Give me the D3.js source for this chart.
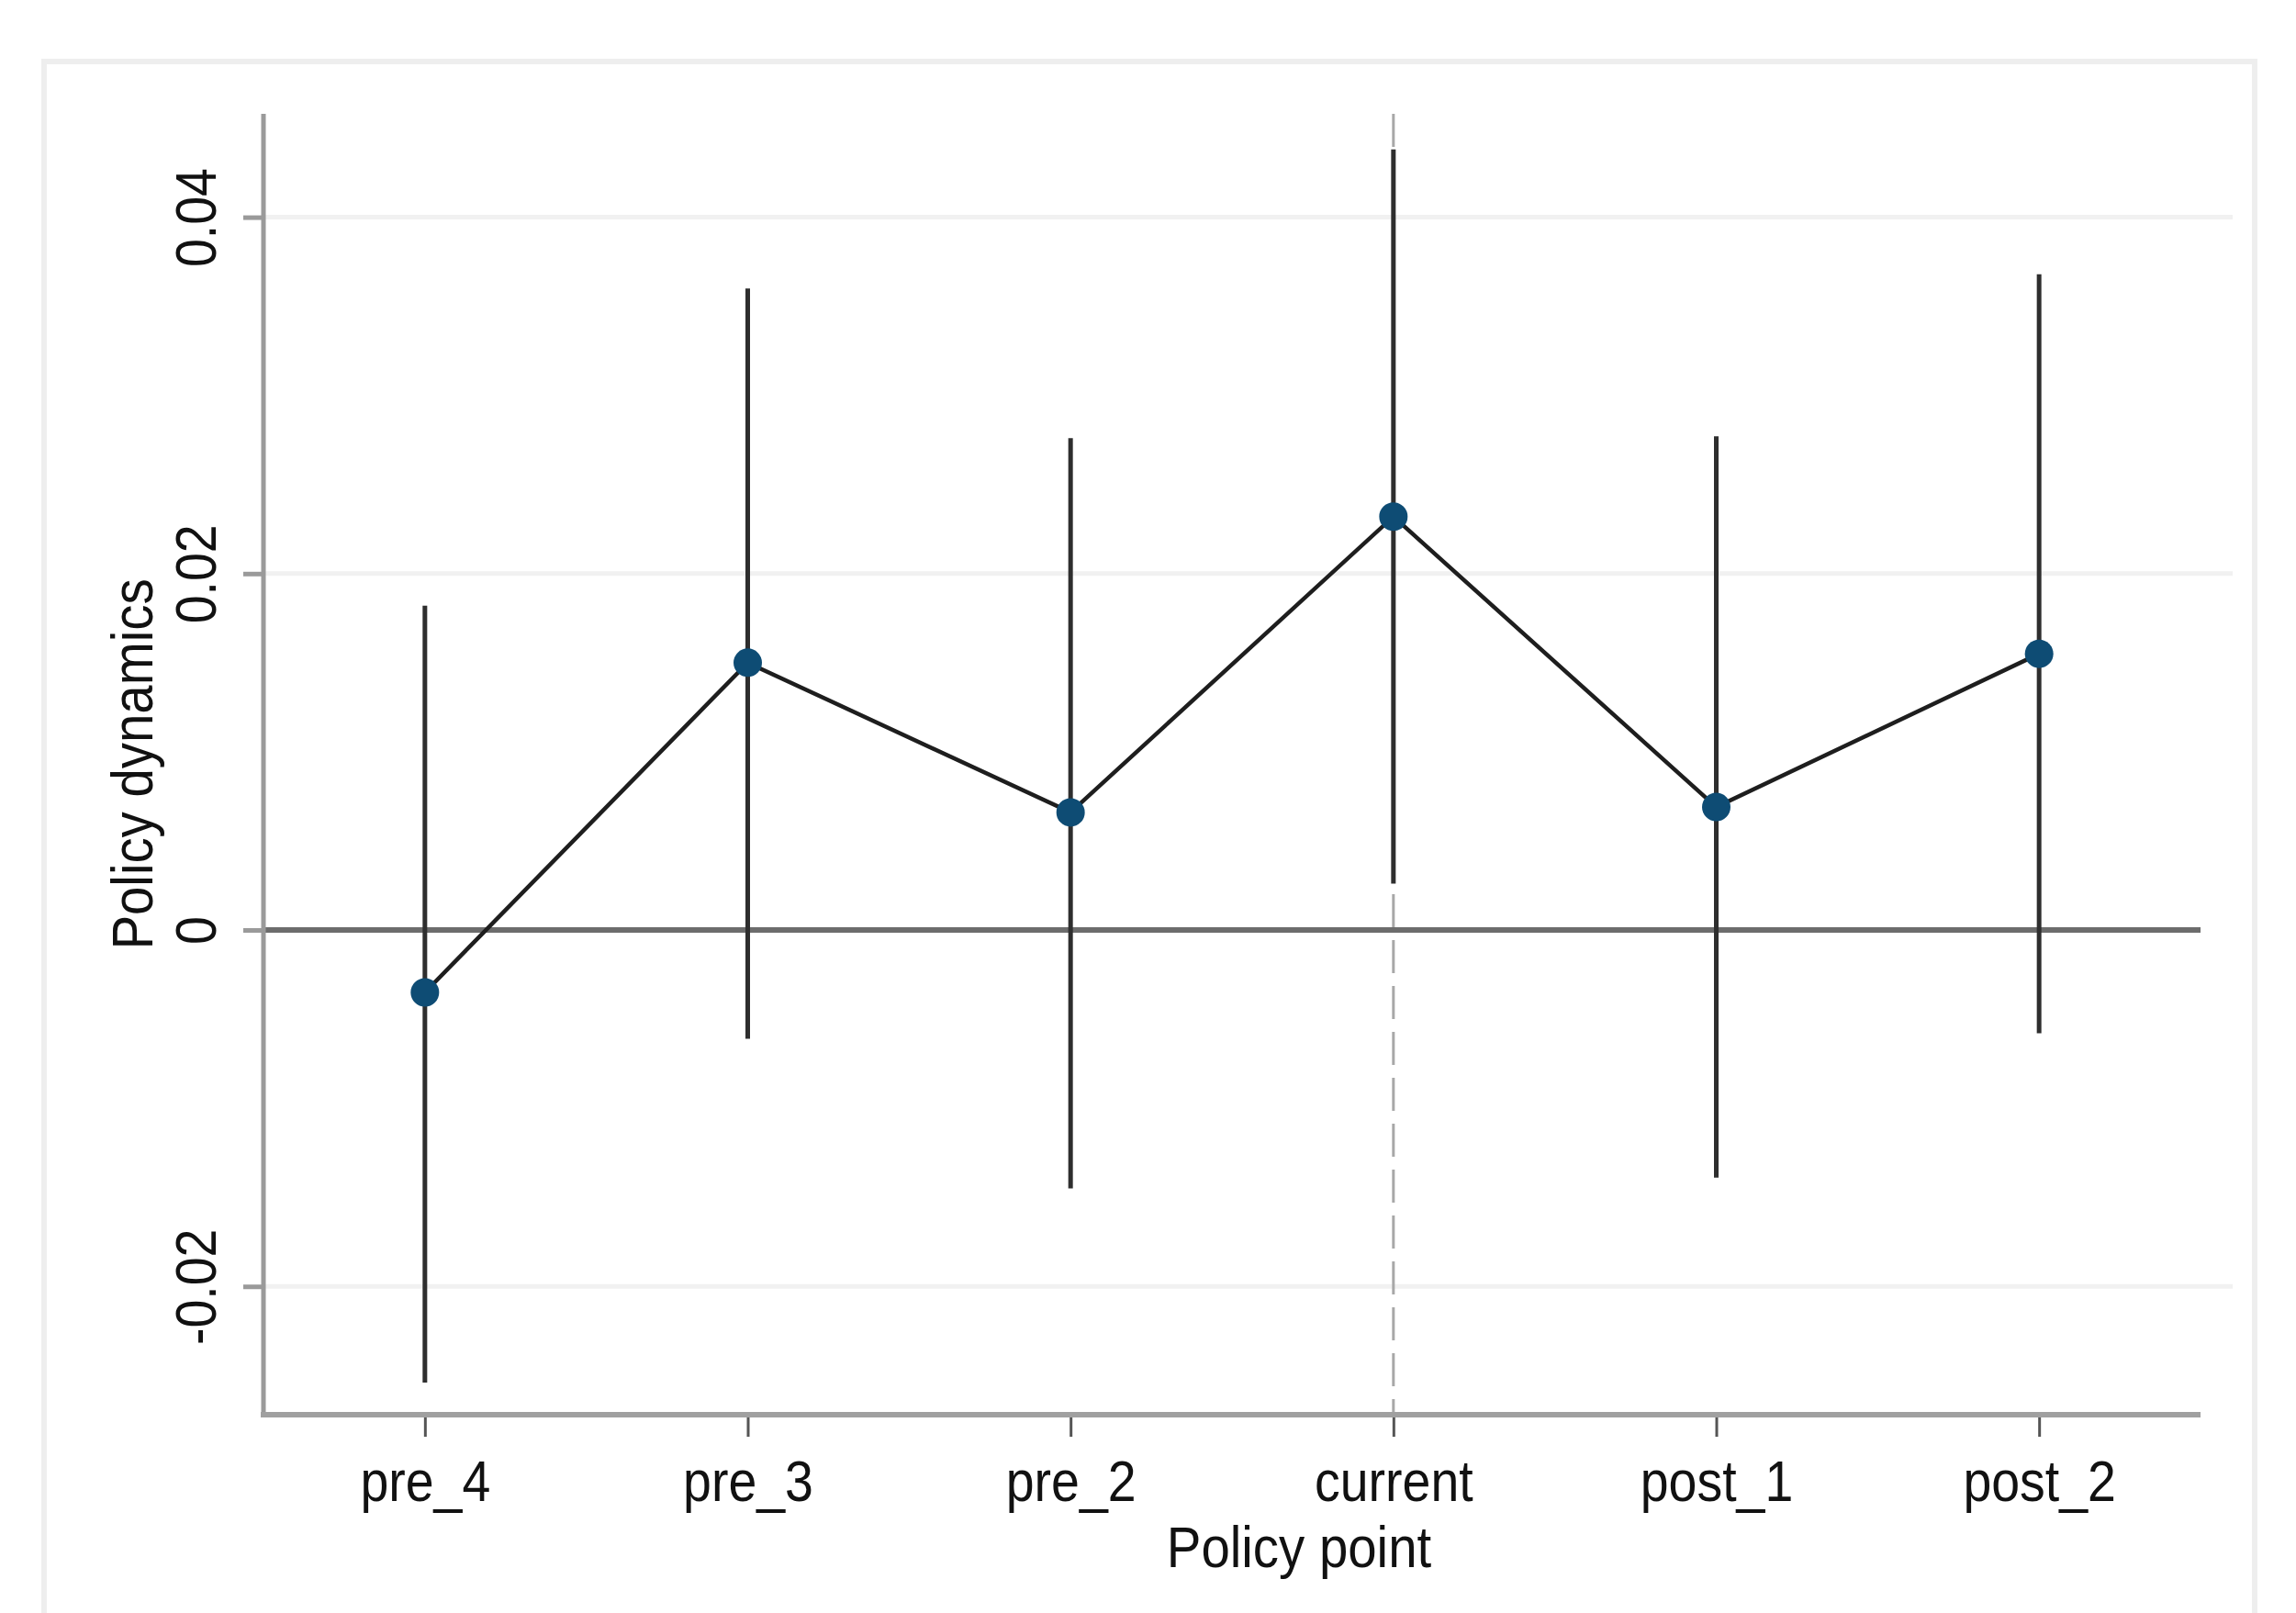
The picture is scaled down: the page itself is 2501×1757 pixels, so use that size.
<!DOCTYPE html>
<html>
<head>
<meta charset="utf-8">
<script src="https://cdn.jsdelivr.net/npm/d3@7"></script>
<style>
  html, body { margin: 0; padding: 0; background: #ffffff; }
  svg { display: block; }
  text { font-family: "Liberation Sans", Arial, Helvetica, sans-serif; fill: #111; }
</style>
</head>
<body>
<svg id="chart" width="2501" height="1757"></svg>
<script>
// ---- data ----
const categories = ["pre_4", "pre_3", "pre_2", "current", "post_1", "post_2"];
const estimates  = [-0.0035, 0.0150, 0.0066, 0.0232, 0.0069, 0.0155];
const ciLower    = [-0.0254, -0.0061, -0.0145, 0.0026, -0.0139, -0.0058];
const ciUpper    = [0.0182, 0.0360, 0.0276, 0.0438, 0.0277, 0.0368];
const yTickValues = [-0.02, 0, 0.02, 0.04];
const yTickLabels = ["-0.02", "0", "0.02", "0.04"];
const refCategory = "current";
const xTitle = "Policy point";
const yTitle = "Policy dynamics";

// ---- layout ----
const svg = d3.select("#chart");
const W = 2501, H = 1757;
const plot = { left: 287, right: 2397, top: 124, bottom: 1541 };

svg.append("rect").attr("x", 0).attr("y", 0).attr("width", W).attr("height", H).attr("fill", "#ffffff");
// outer graph-region frame
svg.append("rect")
  .attr("x", 48).attr("y", 67).attr("width", 2408).attr("height", 1720)
  .attr("fill", "none").attr("stroke", "#eeeeee").attr("stroke-width", 6);

const x = d3.scalePoint().domain(categories).range([plot.left, plot.right]).padding(0.5);
const y = d3.scaleLinear().domain([-0.0272, 0.0458]).range([plot.bottom, plot.top]);

// gridlines
svg.append("g").selectAll("line")
  .data(yTickValues.filter(v => v !== 0))
  .join("line")
  .attr("x1", plot.left).attr("x2", 2432)
  .attr("y1", d => y(d)).attr("y2", d => y(d))
  .attr("stroke", "#f1f1f1").attr("stroke-width", 5);

// zero line
svg.append("line")
  .attr("x1", plot.left).attr("x2", plot.right)
  .attr("y1", y(0)).attr("y2", y(0))
  .attr("stroke", "#6c6c6c").attr("stroke-width", 6);

// reference dashed line
svg.append("line")
  .attr("x1", x(refCategory)).attr("x2", x(refCategory))
  .attr("y1", plot.top).attr("y2", plot.bottom)
  .attr("stroke", "#a8a8a8").attr("stroke-width", 3)
  .attr("stroke-dasharray", "36,14");

// y axis
const yAxis = d3.axisLeft(y).tickValues(yTickValues)
  .tickFormat((d, i) => yTickLabels[i]).tickSize(22).tickPadding(0);
const gy = svg.append("g").attr("transform", `translate(${plot.left},0)`).call(yAxis);
gy.select(".domain").remove();
gy.selectAll(".tick line").attr("stroke", "#9a9a9a").attr("stroke-width", 5);
gy.selectAll(".tick text")
  .attr("x", 0).attr("y", 0).attr("dy", 0)
  .attr("transform", "translate(-52,0) rotate(-90) scale(0.94,1.06)")
  .attr("text-anchor", "middle")
  .attr("font-size", 59)
  .attr("font-family", "'Liberation Sans', Arial, sans-serif")
  .attr("fill", "#111");
svg.append("line")
  .attr("x1", plot.left).attr("x2", plot.left)
  .attr("y1", plot.top).attr("y2", plot.bottom + 3)
  .attr("stroke", "#9a9a9a").attr("stroke-width", 5);

// x axis
const xAxis = d3.axisBottom(x).tickSize(24).tickPadding(0);
const gx = svg.append("g").attr("transform", `translate(0,${plot.bottom})`).call(xAxis);
gx.select(".domain").remove();
gx.selectAll(".tick line").attr("stroke", "#555").attr("stroke-width", 3);
gx.selectAll(".tick text")
  .attr("y", 0).attr("dy", 0)
  .attr("transform", "translate(0,94) scale(0.94,1.06)")
  .attr("font-size", 59)
  .attr("font-family", "'Liberation Sans', Arial, sans-serif")
  .attr("fill", "#111");
svg.append("line")
  .attr("x1", plot.left - 3).attr("x2", plot.right)
  .attr("y1", plot.bottom).attr("y2", plot.bottom)
  .attr("stroke", "#a0a0a0").attr("stroke-width", 6);

// confidence intervals
svg.append("g").selectAll("line")
  .data(categories)
  .join("line")
  .attr("x1", d => x(d)).attr("x2", d => x(d))
  .attr("y1", (d, i) => y(ciLower[i])).attr("y2", (d, i) => y(ciUpper[i]))
  .attr("stroke", "#2e2e2e").attr("stroke-width", 5);

// connecting line
const pts = categories.map((c, i) => [x(c), y(estimates[i])]);
svg.append("path")
  .attr("d", d3.line()(pts))
  .attr("fill", "none").attr("stroke", "#1e1e1e").attr("stroke-width", 4.5);

// markers
svg.append("g").selectAll("circle")
  .data(pts)
  .join("circle")
  .attr("cx", d => d[0]).attr("cy", d => d[1]).attr("r", 15.5)
  .attr("fill", "#0e4c74");

// axis titles
svg.append("text")
  .attr("transform", `translate(166,${(plot.top + plot.bottom) / 2}) rotate(-90) scale(0.94,1.06)`)
  .attr("text-anchor", "middle")
  .attr("font-size", 60)
  .text(yTitle);
svg.append("text")
  .attr("transform", "translate(1415,1707) scale(0.94,1.06)")
  .attr("text-anchor", "middle")
  .attr("font-size", 60)
  .text(xTitle);
</script>
</body>
</html>
